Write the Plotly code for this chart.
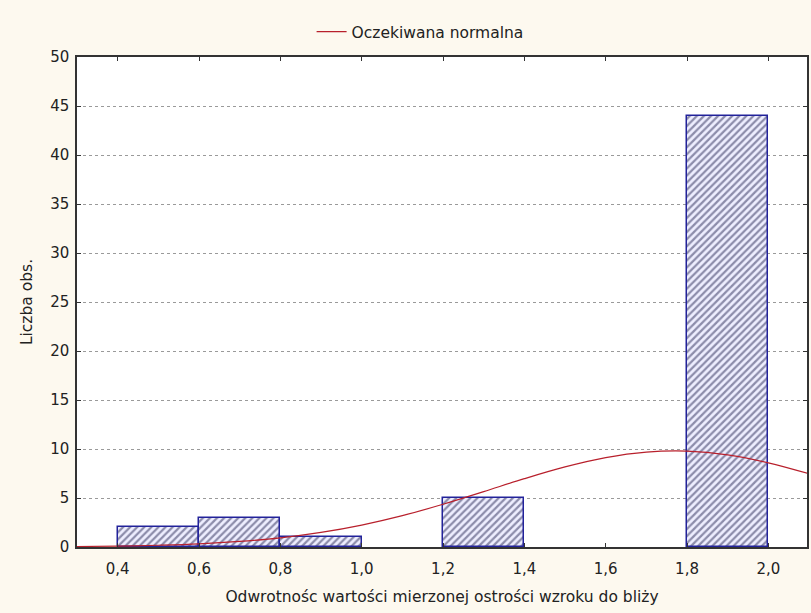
import plotly.graph_objects as go

# Histogram bins (left edge), width 0.2, and observed counts
bin_left = [0.4, 0.6, 0.8, 1.2, 1.8]
counts = [2, 3, 1, 5, 44]
bin_width = 0.2

# Expected normal curve
curve_x = [0.3, 0.4, 0.5, 0.6, 0.7, 0.8, 0.9, 1.0, 1.1, 1.2, 1.3, 1.4, 1.5, 1.6, 1.7, 1.8, 1.9, 2.0, 2.1]
curve_y = [0.05, 0.09, 0.18, 0.32, 0.57, 0.94, 1.49, 2.24, 3.2, 4.36, 5.65, 6.97, 8.17, 9.12, 9.68, 9.78, 9.4, 8.59, 7.47]

x_ticks = [0.4, 0.6, 0.8, 1.0, 1.2, 1.4, 1.6, 1.8, 2.0]
x_tick_text = ["0,4", "0,6", "0,8", "1,0", "1,2", "1,4", "1,6", "1,8", "2,0"]
y_ticks = [0, 5, 10, 15, 20, 25, 30, 35, 40, 45, 50]

FONT = "DejaVu Sans, Liberation Sans, sans-serif"
fs_tick = 15
fs_title = 15.5

fig = go.Figure()
fig.add_trace(go.Bar(
    x=[b + bin_width / 2 for b in bin_left],
    y=counts,
    width=bin_width,
    marker=dict(
        color="#eeeeff",
        line=dict(color="#22229a", width=1.5),
        pattern=dict(shape="/", fgcolor="#2a2a55", bgcolor="#eeeeff", size=5, solidity=0.45),
    ),
    showlegend=False,
    hoverinfo="skip",
))
fig.add_trace(go.Scatter(
    x=curve_x, y=curve_y, mode="lines",
    line=dict(color="#b8202c", width=1.2, shape="spline"),
    name="Oczekiwana normalna",
))

fig.update_layout(
    width=811, height=613,
    margin=dict(l=77, r=2, t=57, b=66),
    paper_bgcolor="#fdf9ef",
    plot_bgcolor="#ffffff",
    font=dict(family=FONT, size=fs_tick, color="#222222"),
    bargap=0,
    legend=dict(
        orientation="h", x=0.47, xanchor="center", y=1.051, yanchor="middle",
        bgcolor="rgba(0,0,0,0)", font=dict(size=fs_title), itemwidth=30,
    ),
)
fig.update_xaxes(
    range=[0.3, 2.095],
    tickvals=x_ticks, ticktext=x_tick_text,
    ticks="inside", ticklen=4, tickcolor="#333333",
    showline=True, linecolor="#333333", linewidth=1.5, mirror="ticks",
    showgrid=False, zeroline=False,
    ticklabelstandoff=7,
    title=dict(text="Odwrotnośc wartości mierzonej ostrości wzroku do bliży", font=dict(size=fs_title), standoff=14),
    tickfont=dict(size=fs_tick),
)
fig.update_yaxes(
    range=[0, 50],
    tickvals=y_ticks,
    ticks="inside", ticklen=4, tickcolor="#333333",
    showline=True, linecolor="#333333", linewidth=1.5, mirror="ticks",
    showgrid=True, gridcolor="#9a9a9a", griddash="dot", gridwidth=1,
    zeroline=False,
    ticklabelstandoff=3,
    title=dict(text="Liczba obs.", font=dict(size=fs_title), standoff=14),
    tickfont=dict(size=fs_tick),
)

fig.write_html("out.html")
